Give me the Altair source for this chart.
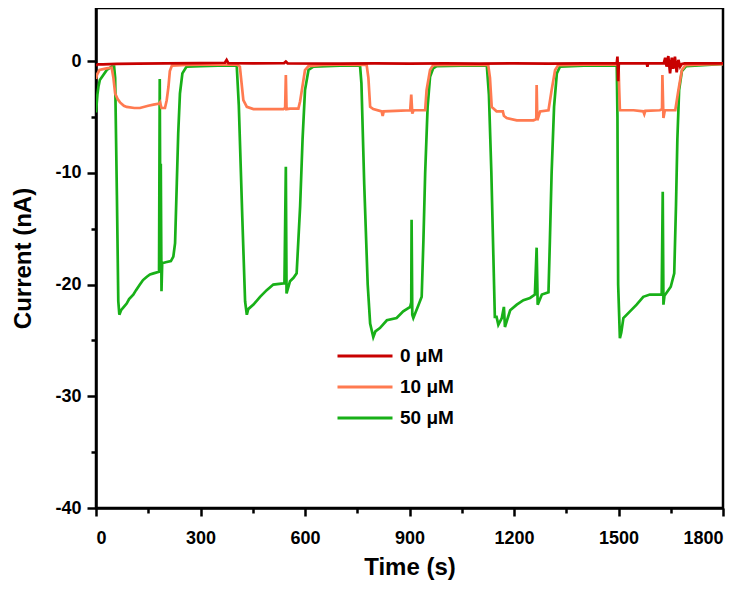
import altair as alt
import pandas as pd

# ---- data (time in s, current in nA) ----
series_names = ["0 μM", "10 μM", "50 μM"]
series_colors = ["#C80000", "#FF7A50", "#18B018"]

t_50 = [0, 4, 7, 11, 21, 31, 45, 52, 55, 60, 64, 67, 72, 80, 88, 95, 107, 115, 126, 135, 146, 155, 165, 181,
        183, 185, 186, 188, 190, 200, 215, 222, 227, 232, 236, 241, 248, 260, 300, 350, 404,
        410, 420, 428, 433, 437, 452, 471, 490, 509, 538, 541, 545, 547, 557, 567, 576, 586, 593, 600, 610, 624,
        700, 758, 762, 770, 780, 787, 796, 802, 815, 835, 863, 882, 902, 905, 906, 908, 911, 925, 935, 940, 945,
        952, 959, 968, 978, 1050, 1122, 1128, 1135, 1145, 1150, 1155, 1165, 1171, 1174, 1189, 1208, 1227, 1246,
        1260, 1265, 1268, 1280, 1299, 1303, 1308, 1315, 1323, 1332, 1400, 1495, 1497, 1499, 1504, 1508, 1514,
        1533, 1552, 1571, 1590, 1614, 1624, 1627, 1629, 1632, 1650, 1660, 1665, 1669, 1674, 1682, 1694, 1780, 1800]
i_50 = [-4.6, -3.0, -2.3, -1.7, -1.25, -0.8, -0.5, -0.5, -1.5, -12.0, -21.5, -22.7, -22.3, -22.0, -21.7, -21.3, -20.9,
        -20.5, -20.0, -19.6, -19.3, -19.1, -19.0, -18.85,
        -1.6, -18.0, -9.2, -20.6, -18.1, -18.0, -17.9, -17.5, -16.3, -10.9, -6.5, -2.9, -1.1, -0.5, -0.45, -0.4, -0.4,
        -4.0, -14.0, -21.5, -22.7, -22.2, -21.8, -21.1, -20.5, -20.0, -19.9, -19.9, -9.45, -20.8, -19.7, -19.4, -19.0,
        -13.0, -7.0, -2.6, -0.8, -0.5,
        -0.4, -0.4, -2.0, -11.0, -20.0, -23.5, -24.7, -24.2, -23.9, -23.2, -23.0, -22.4, -22.0, -21.6, -14.2, -22.7,
        -23.0, -21.9, -21.1, -16.0, -10.0,
        -4.1, -1.4, -0.65, -0.45, -0.4, -0.4, -3.0, -10.0, -22.9, -22.9, -23.6, -23.0, -22.0, -23.8, -22.3, -21.8,
        -21.4, -21.2,
        -20.9, -16.7, -21.8, -20.9, -20.7, -16.1, -10.0, -4.1, -1.1, -0.5, -0.4, -0.4, -5.0, -20.0, -24.8, -24.3,
        -23.0,
        -22.4, -21.8, -21.1, -20.9, -20.9, -20.9, -11.7, -21.8, -21.0, -20.2, -19.0, -13.0, -7.0, -2.6, -0.9, -0.45,
        -0.3, -0.25]

t_10 = [0, 3, 10, 30, 45, 50, 55, 62, 69, 80, 88, 110, 126, 150, 165, 182, 184, 188, 198, 203, 208, 212, 218,
        260, 300, 350, 405, 413, 418, 423, 433, 452, 500, 538, 543, 545, 547, 557, 581, 586, 591, 600, 610,
        650, 700, 777, 782, 787, 796, 820, 823, 826, 860, 902, 905, 908, 912, 945, 949, 959, 968,
        1000, 1126, 1131, 1136, 1150, 1168, 1171, 1179, 1208, 1256, 1264, 1265, 1267, 1275, 1299, 1308, 1318, 1327,
        1400, 1500, 1502, 1504, 1543, 1571, 1574, 1577, 1619, 1625, 1626, 1629, 1633, 1663, 1672, 1682, 1692,
        1750, 1800]
i_10 = [-1.6, -1.2, -0.8, -0.65, -0.6, -1.5, -2.9, -3.4, -3.7, -4.0, -4.1, -4.2, -4.2, -4.0, -3.9, -3.8, -3.7, -4.2,
        -4.2, -3.5, -2.3, -0.9, -0.4,
        -0.35, -0.33, -0.32, -0.3, -0.5, -2.0, -3.5, -4.1, -4.3, -4.3, -4.3, -4.2, -1.25, -4.3, -4.25, -4.25, -3.6,
        -2.6, -0.8, -0.45,
        -0.35, -0.33, -0.35, -1.5, -4.1, -4.3, -4.5, -4.9, -4.5, -4.45, -4.4, -3.0, -4.7, -4.4, -4.4, -2.6, -0.8,
        -0.36,
        -0.35, -0.35, -1.5, -4.1, -4.5, -4.5, -4.9, -5.1, -5.3, -5.3, -5.2, -2.15, -5.3, -4.5, -4.4, -2.6, -0.8,
        -0.36,
        -0.33, -0.33, -2.5, -4.4, -4.4, -4.5, -4.75, -4.45, -4.4, -4.3, -1.25, -5.1, -4.4, -4.4, -2.6, -0.8, -0.36,
        -0.3, -0.28]

t_0 = [0, 5, 20, 60, 120, 200, 300, 370, 375, 380, 450, 540, 545, 550, 700, 800, 900, 1000, 1100, 1200, 1300,
       1400, 1495, 1497, 1499, 1501, 1581, 1583, 1585, 1630, 1634, 1638, 1643, 1648, 1653, 1657, 1662, 1667,
       1672, 1677, 1682, 1690, 1750, 1800]
i_0 = [-0.4, -0.3, -0.3, -0.25, -0.22, -0.2, -0.18, -0.15, 0.1, -0.18, -0.2, -0.18, -0.05, -0.2, -0.22, -0.2,
       -0.22, -0.2, -0.22, -0.2, -0.22, -0.2, -0.2, 0.4, -1.8, -0.2, -0.2, -0.5, -0.2, -0.2, 0.3, -0.5, 0.45,
       -1.1, 0.3, -0.7, 0.4, -1.0, 0.1, -0.5, -0.25, -0.2, -0.2, -0.2]

rows = []
for name, ts, vs, k in [("50 μM", t_50, i_50, 0), ("10 μM", t_10, i_10, 1), ("0 μM", t_0, i_0, 2)]:
    for a, b in zip(ts, vs):
        rows.append({"t": a, "i": b, "series": name, "k": k})
df = pd.DataFrame(rows)

x_ticks = list(range(0, 1801, 150))
y_ticks = list(range(-40, 1, 5))

font = "Liberation Sans"

chart = alt.Chart(df).mark_line(strokeWidth=2.7, clip=True).encode(
    x=alt.X("t:Q", title="Time (s)",
            scale=alt.Scale(domain=[0, 1800], nice=False, zero=False),
            axis=alt.Axis(values=x_ticks,
                          labelExpr="datum.value % 300 === 0 ? '' + datum.value : ''",
                          tickSize=alt.expr("datum.value % 300 === 0 ? 8 : 5"),
                          labelPadding=13, titlePadding=8)),
    y=alt.Y("i:Q", title="Current (nA)",
            scale=alt.Scale(domain=[-40, 4.75], nice=False, zero=False),
            axis=alt.Axis(values=y_ticks,
                          labelExpr="datum.value % 10 === 0 ? '' + datum.value : ''",
                          tickSize=alt.expr("datum.value % 10 === 0 ? 9 : 5"),
                          labelPadding=6, titlePadding=19)),
    color=alt.Color("series:N", scale=alt.Scale(domain=series_names, range=series_colors),
                    legend=alt.Legend(orient="none", legendX=240, legendY=338, title=None,
                                      symbolType="stroke", symbolSize=3025, symbolStrokeWidth=3,
                                      clipHeight=20,
                                      labelFont=font, labelFontSize=19, labelFontWeight="bold",
                                      labelColor="black", labelOffset=6, rowPadding=11, padding=0)),
    detail="k:N",
).properties(
    width=627, height=500,
    autosize=alt.AutoSizeParams(type="none"),
    padding={"left": 88, "top": 0, "right": 19, "bottom": 75},
).configure_view(
    stroke="black", strokeWidth=2.5
).configure_axis(
    grid=False, domainColor="black", domainWidth=2.5, tickColor="black", tickWidth=2.5,
    labelFont=font, labelFontSize=18, labelFontWeight="bold", labelColor="black",
    titleFont=font, titleFontSize=24, titleFontWeight="bold", titleColor="black"
)

chart.save("out.html", embed_options={"renderer": "svg", "actions": False})
